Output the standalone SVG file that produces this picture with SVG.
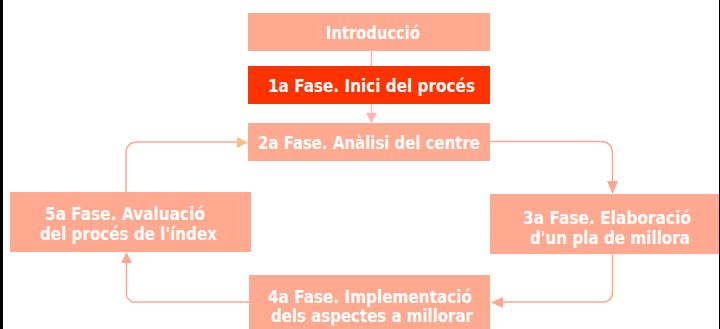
<svg xmlns="http://www.w3.org/2000/svg" width="720" height="329" viewBox="0 0 720 329">
<style>
.box{fill:#FFAA90}
.red{fill:#FF3300}
.t{font-family:"DejaVu Sans Condensed","Liberation Sans",sans-serif;font-weight:bold;font-size:18px;fill:#FFFFFF;text-anchor:middle}
.ln{fill:none;stroke:#FFA68C;stroke-width:1.5}
.lc{fill:none;stroke:#FFB4B0;stroke-width:1.5}
.ah{fill:#FFA68C}
</style>
<rect x="0" y="0" width="720" height="329" fill="#FFFFFF"/>
<rect x="0" y="0" width="3" height="329" fill="#000000"/>
<rect x="719" y="0" width="1" height="329" fill="#000000"/>
<g id="connectors">
<path class="lc" d="M371.5 51 V66"/>
<path class="lc" d="M371.5 104 V114"/>
<polygon points="366,113 377,113 371.5,123" fill="#FFB4B0"/>
<path class="ln" d="M490 141.5 H600 Q612.5 141.5 612.5 154 V182"/>
<polygon class="ah" points="607,181 618,181 612.5,194"/>
<path class="ln" d="M612.5 254 V292 Q612.5 302 602 302 H502"/>
<polygon class="ah" points="503,297 503,308 491,302.5"/>
<path class="ln" d="M249 302 H132 L126.5 297 V262"/>
<polygon class="ah" points="121,263 132,263 126.5,252"/>
<path class="ln" d="M126 192 V154 Q126 142 138 142 H238"/>
<polygon points="237,137 237,148 248,142.5" fill="#FFBE80"/>
</g>
<g id="intro">
<rect class="box" x="248" y="13" width="242" height="38"/>
<text class="t" x="373" y="39" textLength="94" lengthAdjust="spacingAndGlyphs">Introducció</text>
</g>
<g id="fase1">
<rect class="red" x="248" y="66" width="242" height="38"/>
<text class="t" x="371.5" y="92" textLength="207" lengthAdjust="spacingAndGlyphs">1a Fase. Inici del procés</text>
</g>
<g id="fase2">
<rect class="box" x="248" y="123" width="242" height="38"/>
<text class="t" x="369" y="148.5" textLength="222" lengthAdjust="spacingAndGlyphs">2a Fase. Anàlisi del centre</text>
</g>
<g id="fase3">
<rect class="box" x="490" y="194" width="229" height="60"/>
<text class="t" x="607" y="223.5" textLength="168" lengthAdjust="spacingAndGlyphs">3a Fase. Elaboració</text>
<text class="t" x="610" y="243.5" textLength="160" lengthAdjust="spacingAndGlyphs">d'un pla de millora</text>
</g>
<g id="fase4">
<rect class="box" x="249" y="275" width="241" height="60"/>
<text class="t" x="370" y="302.5" textLength="204" lengthAdjust="spacingAndGlyphs">4a Fase. Implementació</text>
<text class="t" x="372" y="322" textLength="202" lengthAdjust="spacingAndGlyphs">dels aspectes a millorar</text>
</g>
<g id="fase5">
<rect class="box" x="10" y="192" width="241" height="60"/>
<text class="t" x="125" y="220" textLength="160" lengthAdjust="spacingAndGlyphs">5a Fase. Avaluació</text>
<text class="t" x="128.5" y="240" textLength="177" lengthAdjust="spacingAndGlyphs">del procés de l'índex</text>
</g>
</svg>
